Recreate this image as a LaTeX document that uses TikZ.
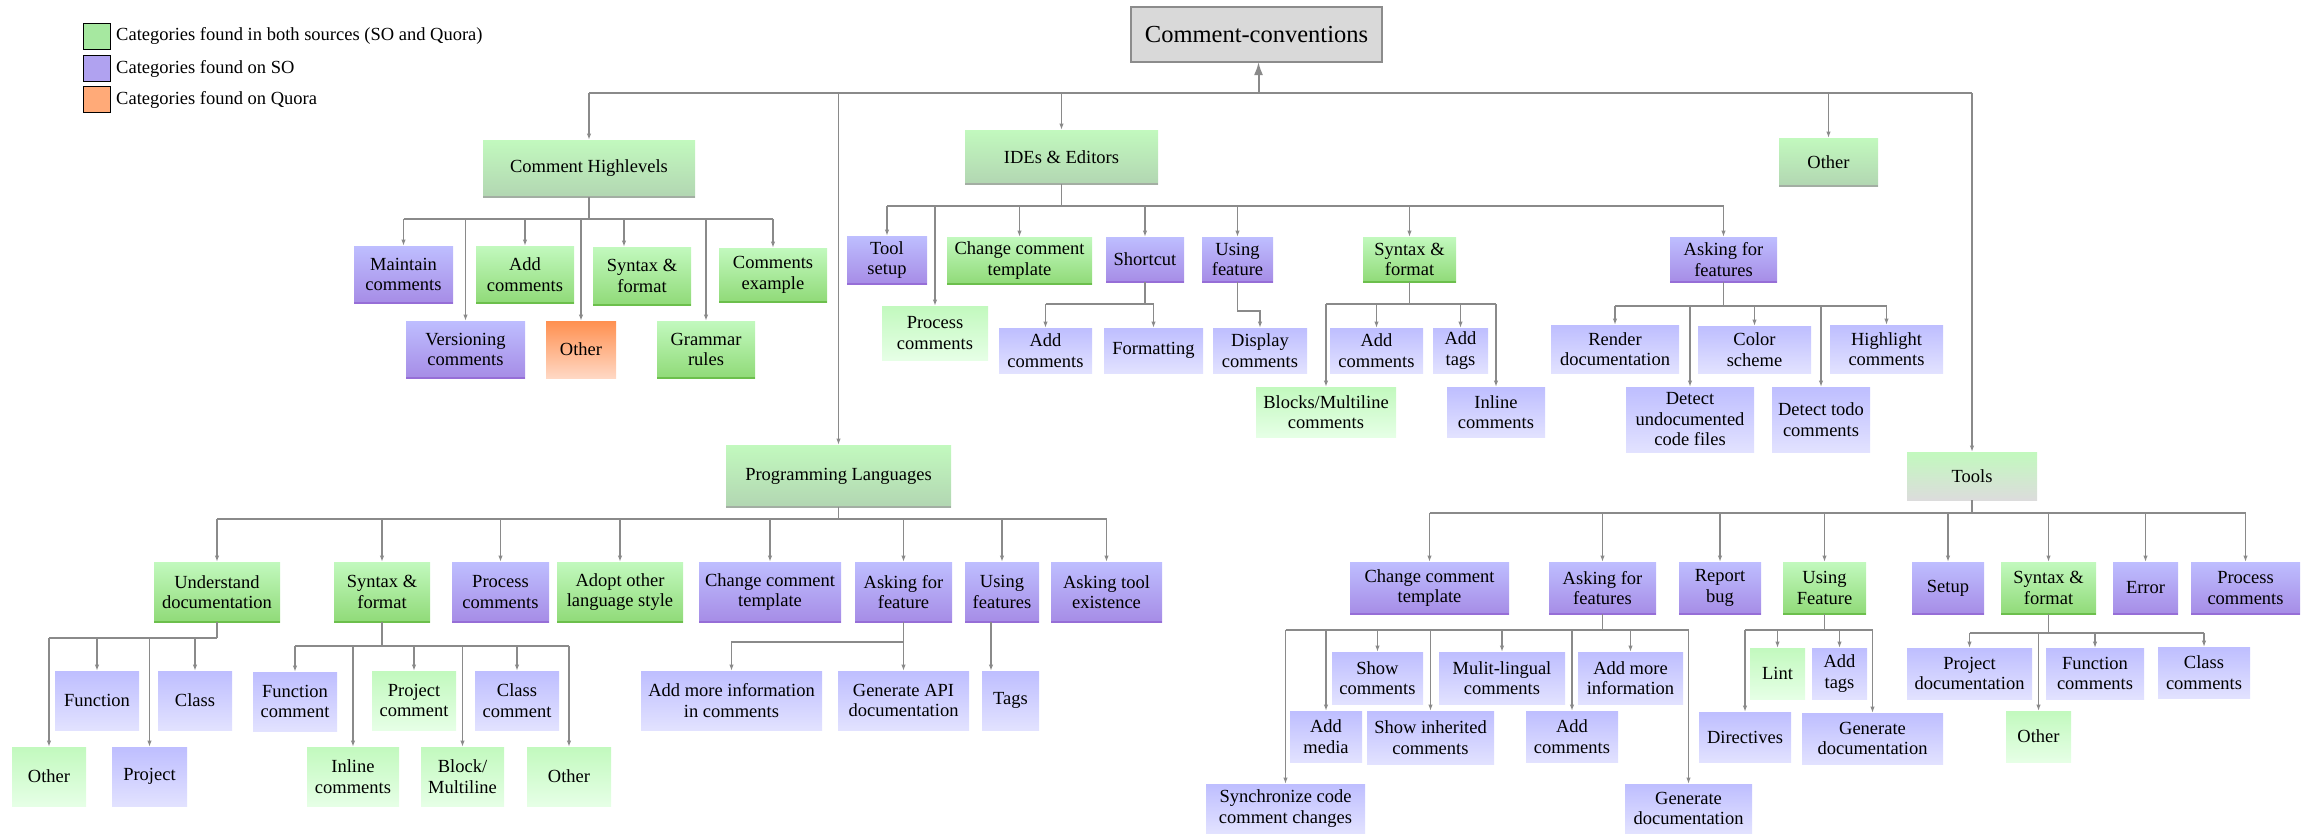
\documentclass[tikz,border=0pt]{standalone}
\usepackage{fontspec}
\setmainfont{Liberation Serif}
\usetikzlibrary{arrows.meta}
\definecolor{gTop}{HTML}{C2F9BE}
\definecolor{gBot}{HTML}{90DA78}
\definecolor{gEdge}{HTML}{6CBF4C}
\definecolor{g1Bot}{HTML}{B2D6B2}
\definecolor{g1Edge}{HTML}{A3AEA3}
\definecolor{tBot}{HTML}{DCDCDC}
\definecolor{pTop}{HTML}{BEBEFF}
\definecolor{pBot}{HTML}{A68CE6}
\definecolor{pEdge}{HTML}{966ED7}
\definecolor{plBot}{HTML}{E2E2FF}
\definecolor{glBot}{HTML}{E6FFE6}
\definecolor{oTop}{HTML}{FF9050}
\definecolor{oBot}{HTML}{FFD8C4}
\definecolor{rootFill}{HTML}{D9D9D9}
\definecolor{rootEdge}{HTML}{8C8C8C}
\definecolor{lnCol}{HTML}{8A8A8A}
\definecolor{legG}{HTML}{A6E8A0}
\definecolor{legP}{HTML}{B0A2F0}
\definecolor{legO}{HTML}{FFAA78}
\newcommand{\boxfont}{\fontsize{18.5}{20.5}\selectfont}
\newcommand{\bx}[7]{\node[box,#6,minimum width={(#4-#2)*1pt},minimum height={(#5-#3)*1pt}] (#1) at ({(#2+#4)/2},{(#3+#5)/2}) {#7};}
\tikzset{
  box/.style={inner sep=0pt, outer sep=0pt, align=center, font=\boxfont, text=black},
  bedge/.style={path picture={\draw[#1, line width=2.5pt] (path picture bounding box.south west) -- (path picture bounding box.south east);}},
  rootst/.style={fill=rootFill, draw=rootEdge, line width=1.2pt, font=\fontsize{24.5}{28}\selectfont},
  lvone/.style={top color=gTop, bottom color=g1Bot, bedge=g1Edge},
  toolsst/.style={top color=gTop, bottom color=tBot, bedge=tBot},
  gcat/.style={top color=gTop, bottom color=gBot, bedge=gEdge},
  pcat/.style={top color=pTop, bottom color=pBot, bedge=pEdge},
  pleaf/.style={top color=pTop, bottom color=plBot},
  gleaf/.style={top color=gTop, bottom color=glBot},
  oleaf/.style={top color=oTop, bottom color=oBot},
  ln/.style={draw=lnCol, line width=1.3pt},
  arr/.style={ln, -{Latex[length=6.5pt,width=4.5pt]}},
  legsq/.style={draw=black, line width=1pt, minimum width=27pt, minimum height=26pt, inner sep=0pt},
  legtx/.style={anchor=west, inner sep=0pt, font=\fontsize{18.5}{20}\selectfont}
}
\begin{document}
\begin{tikzpicture}[x=1pt,y=-1pt]
\useasboundingbox (0,0) rectangle (2315,833);
% legend
\node[legsq, fill=legG] (lg1) at (96.5,36) {};
\node[legsq, fill=legP] (lg2) at (96.5,68.5) {};
\node[legsq, fill=legO] (lg3) at (96.5,99.5) {};
\node[legtx] (lt1) at (116,36) {Categories found in both sources (SO and Quora)};
\node[legtx] (lt2) at (116,68.5) {Categories found on SO};
\node[legtx] (lt3) at (116,99.5) {Categories found on Quora};
% root and level one
\bx{root}{1131}{7}{1382}{62}{rootst}{Comment-conventions}
\bx{ch}{483}{140}{695}{197}{lvone}{Comment Highlevels}
\bx{ide}{965}{130}{1158}{184}{lvone}{IDEs \& Editors}
\bx{oth}{1779}{138}{1878}{186}{lvone}{Other}
\bx{pl}{726}{445}{951}{507}{lvone}{Programming Languages}
\bx{tools}{1907}{452}{2037}{500}{toolsst}{Tools}
% Comment Highlevels children
\bx{mc}{354}{246}{453}{303}{pcat}{Maintain\\comments}
\bx{ac}{476}{246}{574}{303}{gcat}{Add\\comments}
\bx{sfa}{593}{247}{691}{305}{gcat}{Syntax \&\\format}
\bx{ce}{719}{248}{827}{302}{gcat}{Comments\\example}
\bx{vc}{406}{321}{525}{378}{pcat}{Versioning\\comments}
\bx{ota}{546}{321}{616}{378}{oleaf}{Other}
\bx{gr}{657}{321}{755}{378}{gcat}{Grammar\\rules}
% IDE children
\bx{ts}{847}{236}{927}{284}{pcat}{Tool\\setup}
\bx{pca}{882}{306}{988}{360}{gleaf}{Process\\comments}
\bx{ccta}{947}{237}{1092}{284}{gcat}{Change comment\\template}
\bx{sc}{1106}{237}{1184}{282}{pcat}{Shortcut}
\bx{ufa}{1202}{237}{1273}{282}{pcat}{Using\\feature}
\bx{sfb}{1363}{237}{1456}{282}{gcat}{Syntax \&\\format}
\bx{affa}{1670}{237}{1777}{282}{pcat}{Asking for\\features}
\bx{acb}{999}{328}{1092}{373}{pleaf}{Add\\comments}
\bx{fmt}{1104}{328}{1203}{373}{pleaf}{Formatting}
\bx{dc}{1213}{328}{1307}{373}{pleaf}{Display\\comments}
\bx{acc}{1330}{328}{1423}{373}{pleaf}{Add\\comments}
\bx{ata}{1433}{328}{1488}{373}{pleaf}{Add\\tags}
\bx{bm}{1256}{387}{1396}{437}{gleaf}{Blocks/Multiline\\comments}
\bx{ica}{1447}{387}{1545}{437}{pleaf}{Inline\\comments}
\bx{rd}{1551}{325}{1679}{373}{pleaf}{Render\\documentation}
\bx{cs}{1698}{326}{1811}{373}{pleaf}{Color\\scheme}
\bx{hc}{1830}{325}{1943}{373}{pleaf}{Highlight\\comments}
\bx{du}{1626}{387}{1754}{452}{pleaf}{Detect\\undocumented\\code files}
\bx{dt}{1772}{387}{1870}{452}{pleaf}{Detect todo\\comments}
% Programming Languages children
\bx{ud}{154}{562}{280}{622}{gcat}{Understand\\documentation}
\bx{sfc}{334}{562}{430}{622}{gcat}{Syntax \&\\format}
\bx{pcb}{452}{562}{549}{622}{pcat}{Process\\comments}
\bx{ao}{557}{562}{683}{622}{gcat}{Adopt other\\language style}
\bx{cctb}{699}{562}{841}{622}{pcat}{Change comment\\template}
\bx{afb}{855}{562}{952}{622}{pcat}{Asking for\\feature}
\bx{ufb}{965}{562}{1039}{622}{pcat}{Using\\features}
\bx{ate}{1051}{562}{1162}{622}{pcat}{Asking tool\\existence}
\bx{fn}{55}{671}{139}{730}{pleaf}{Function}
\bx{cl}{158}{671}{232}{730}{pleaf}{Class}
\bx{otb}{12}{747}{86}{806}{gleaf}{Other}
\bx{pj}{112}{747}{187}{806}{pleaf}{Project}
\bx{fc}{253}{672}{337}{731}{pleaf}{Function\\comment}
\bx{pjc}{372}{671}{456}{730}{gleaf}{Project\\comment}
\bx{clc}{475}{671}{559}{730}{pleaf}{Class\\comment}
\bx{inl}{307}{747}{399}{806}{gleaf}{Inline\\comments}
\bx{bl}{421}{747}{504}{806}{gleaf}{Block/\\Multiline}
\bx{otc}{527}{747}{611}{806}{gleaf}{Other}
\bx{ami}{641}{671}{822}{730}{pleaf}{Add more information\\in comments}
\bx{gapi}{838}{671}{969}{730}{pleaf}{Generate API\\documentation}
\bx{tags}{982}{671}{1039}{730}{pleaf}{Tags}
% Tools children
\bx{cctc}{1350}{562}{1509}{614}{pcat}{Change comment\\template}
\bx{affc}{1549}{562}{1656}{614}{pcat}{Asking for\\features}
\bx{rb}{1679}{562}{1761}{614}{pcat}{Report\\bug}
\bx{ufc}{1783}{562}{1866}{614}{gcat}{Using\\Feature}
\bx{setup}{1912}{562}{1984}{614}{pcat}{Setup}
\bx{sfd}{2001}{562}{2096}{614}{gcat}{Syntax \&\\format}
\bx{err}{2113}{562}{2178}{614}{pcat}{Error}
\bx{pcc}{2191}{562}{2300}{614}{pcat}{Process\\comments}
\bx{shc}{1332}{652}{1423}{704}{pleaf}{Show\\comments}
\bx{ml}{1439}{652}{1565}{704}{pleaf}{Mulit-lingual\\comments}
\bx{amib}{1578}{652}{1683}{704}{pleaf}{Add more\\information}
\bx{am}{1290}{711}{1362}{762}{pleaf}{Add\\media}
\bx{sic}{1367}{711}{1494}{764}{pleaf}{Show inherited\\comments}
\bx{acd}{1526}{711}{1618}{762}{pleaf}{Add\\comments}
\bx{sync}{1206}{784}{1365}{833}{pleaf}{Synchronize code\\comment changes}
\bx{gda}{1625}{784}{1752}{833}{pleaf}{Generate\\documentation}
\bx{lint}{1750}{648}{1805}{699}{gleaf}{Lint}
\bx{atb}{1812}{648}{1867}{699}{pleaf}{Add\\tags}
\bx{dir}{1699}{712}{1791}{762}{pleaf}{Directives}
\bx{gdb}{1802}{713}{1943}{764}{pleaf}{Generate\\documentation}
\bx{pd}{1907}{648}{2032}{699}{pleaf}{Project\\documentation}
\bx{fnc}{2046}{648}{2144}{699}{pleaf}{Function\\comments}
\bx{clcb}{2158}{647}{2250}{698}{pleaf}{Class\\comments}
\bx{otd}{2006}{711}{2071}{762}{gleaf}{Other}
% bus coordinates
\coordinate (topb) at (0,93);
\coordinate (chb) at (0,219);
\coordinate (ideb) at (0,206);
\coordinate (scb) at (0,304);
\coordinate (ufab) at (0,311);
\coordinate (sfbb) at (0,304);
\coordinate (affab) at (0,306);
\coordinate (plb) at (0,519);
\coordinate (udb) at (0,638);
\coordinate (sfcb) at (0,646);
\coordinate (afbb) at (0,642);
\coordinate (toolsb) at (0,513);
\coordinate (affcb) at (0,630);
\coordinate (ufcb) at (0,630);
\coordinate (sfdb) at (0,633);
% top level connectors
\draw[ln, line width=2pt] (topb -| ch.north) -- (topb -| tools.north);
\draw[ln, line width=2pt, -{Latex[length=13pt,width=9pt]}] ([xshift=2pt]root.south |- topb) -- ([xshift=2pt]root.south);
\foreach \n in {ch,ide,oth,pl,tools} \draw[arr] (topb -| \n.north) -- (\n.north);
% Comment Highlevels
\draw[ln] (ch.south) -- (ch.south |- chb);
\draw[ln] (chb -| mc.north) -- (chb -| ce.north);
\foreach \n in {mc,ac,ce,vc,ota,gr} \draw[arr] (chb -| \n.north) -- (\n.north);
\draw[arr] ([xshift=-18pt]chb -| sfa.north) -- ([xshift=-18pt]sfa.north);
% IDEs
\draw[ln] (ide.south) -- (ide.south |- ideb);
\draw[ln] (ideb -| ts.north) -- (ideb -| affa.north);
\foreach \n in {ts,pca,ccta,sc,ufa,sfb,affa} \draw[arr] (ideb -| \n.north) -- (\n.north);
\draw[ln] (sc.south) -- (sc.south |- scb);
\draw[ln] (scb -| acb.north) -- (scb -| fmt.north);
\foreach \n in {acb,fmt} \draw[arr] (scb -| \n.north) -- (\n.north);
\draw[arr] (ufa.south) -- (ufa.south |- ufab) -| (dc.north);
\draw[ln] (sfb.south) -- (sfb.south |- sfbb);
\draw[ln] (sfbb -| bm.north) -- (sfbb -| ica.north);
\foreach \n in {acc,ata,bm,ica} \draw[arr] (sfbb -| \n.north) -- (\n.north);
\draw[ln] (affa.south) -- (affa.south |- affab);
\draw[ln] (affab -| rd.north) -- (affab -| hc.north);
\foreach \n in {rd,cs,hc,du,dt} \draw[arr] (affab -| \n.north) -- (\n.north);
% Programming Languages
\draw[ln] (pl.south) -- (pl.south |- plb);
\draw[ln] (plb -| ud.north) -- (plb -| ate.north);
\foreach \n in {ud,sfc,pcb,ao,cctb,afb,ufb,ate} \draw[arr] (plb -| \n.north) -- (\n.north);
\draw[ln] (ud.south) -- (ud.south |- udb);
\draw[ln] (udb -| otb.north) -- (udb -| ud.south);
\foreach \n in {fn,cl,otb,pj} \draw[arr] (udb -| \n.north) -- (\n.north);
\draw[ln] (sfc.south) -- (sfc.south |- sfcb);
\draw[ln] (sfcb -| fc.north) -- (sfcb -| otc.north);
\foreach \n in {fc,pjc,clc,inl,bl,otc} \draw[arr] (sfcb -| \n.north) -- (\n.north);
\draw[arr] (afb.south) -- (afb.south |- afbb) -| (ami.north);
\draw[arr] (afb.south) -- (gapi.north);
\draw[arr] ([xshift=-11pt]ufb.south) -- ([xshift=-11pt]ufb.south |- tags.north);
% Tools
\draw[ln] (tools.south) -- (tools.south |- toolsb);
\draw[ln] (toolsb -| cctc.north) -- (toolsb -| pcc.north);
\foreach \n in {cctc,affc,rb,ufc,setup,sfd,err,pcc} \draw[arr] (toolsb -| \n.north) -- (\n.north);
\draw[ln] (affc.south) -- (affc.south |- affcb);
\draw[ln] (affcb -| sync.north) -- (affcb -| gda.north);
\foreach \n in {shc,ml,amib,am,sic,acd,sync,gda} \draw[arr] (affcb -| \n.north) -- (\n.north);
\draw[ln] (ufc.south) -- (ufc.south |- ufcb);
\draw[ln] (ufcb -| dir.north) -- (ufcb -| gdb.north);
\foreach \n in {lint,atb,dir,gdb} \draw[arr] (ufcb -| \n.north) -- (\n.north);
\draw[ln] (sfd.south) -- (sfd.south |- sfdb);
\draw[ln] (sfdb -| pd.north) -- (sfdb -| clcb.north);
\foreach \n in {pd,fnc,clcb,otd} \draw[arr] (sfdb -| \n.north) -- (\n.north);
\end{tikzpicture}
\end{document}
